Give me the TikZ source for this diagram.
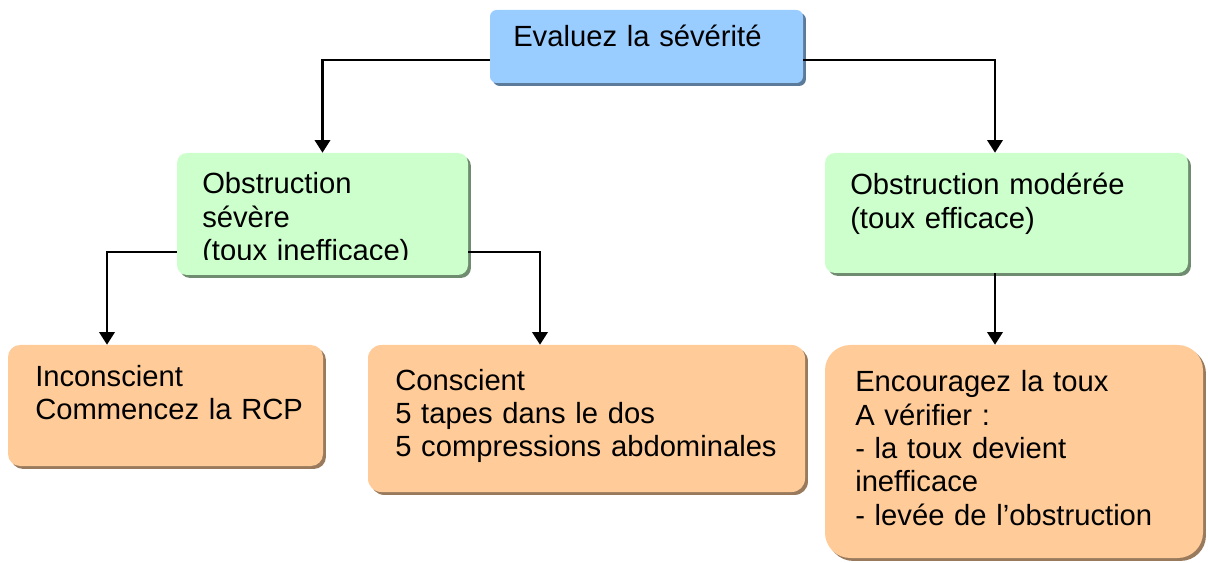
\documentclass[tikz,border=0pt]{standalone}
\usepackage{fontspec}
\setmainfont{Liberation Sans}
\usetikzlibrary{arrows.meta,shadows,fit}
\definecolor{cblue}{HTML}{99CCFF}
\definecolor{cgreen}{HTML}{CCFFCC}
\definecolor{corange}{HTML}{FFCC99}
\tikzset{
  boxbase/.style={draw=none, inner sep=0pt},
  bluebox/.style={boxbase, fill=cblue, rounded corners=5pt,
    general shadow={fill=cblue!60!black, shadow xshift=2.2pt, shadow yshift=-2.2pt}},
  greenbox/.style={boxbase, fill=cgreen, rounded corners=7.5pt,
    general shadow={fill=cgreen!55!black, shadow xshift=2.2pt, shadow yshift=-2.2pt}},
  orangebox/.style={boxbase, fill=corange, rounded corners=#1,
    general shadow={fill=corange!60!black, shadow xshift=2.2pt, shadow yshift=-2.2pt}},
  txt/.style={inner sep=0pt, anchor=base west, align=left, text width=300pt,
    font=\fontsize{21.9}{25}\selectfont},
  conn/.style={line width=1.9pt, -{Triangle[length=9.5pt,width=11.5pt]}},
}
\begin{document}
\begin{tikzpicture}[x=0.75pt,y=-0.75pt]
\useasboundingbox (0,0) rectangle (1208,563);
% boxes
\node[bluebox, fit={(490,10)(803,83)}] (eval) {};
\node[greenbox, fit={(177,153)(468,275)}] (sev) {};
\node[greenbox, fit={(825,153)(1188,273)}] (mod) {};
\node[orangebox=9pt, fit={(8,345)(323,466)}] (inc) {};
\node[orangebox=10pt, fit={(368,345)(805,492)}] (con) {};
\node[orangebox=19pt, fit={(825,345)(1203,558)}] (enc) {};
% texts
\node[txt] (teval) at (513,47) {Evaluez la sévérité};
\begin{scope}
\clip (177,153) rectangle (468,260);
\node[txt] (tsev) at (202,194) {Obstruction\\sévère\\(toux inefficace)};
\end{scope}
\node[txt] (tmod) at (850,195) {Obstruction modérée\\(toux efficace)};
\node[txt] (tinc) at (35,386) {Inconscient\\Commencez la RCP};
\node[txt] (tcon) at (395,390) {Conscient\\5 tapes dans le dos\\5 compressions abdominales};
\node[txt] (tenc) at (855,392) {Encouragez la toux\\A vérifier :\\- la toux devient\\inefficace\\- levée de l’obstruction};
% helper coordinates
\coordinate (ya) at (0,60);
\coordinate (yb) at (0,252);
\coordinate (xa) at (322.5,0);
\coordinate (xb) at (995,0);
\coordinate (xc) at (107,0);
\coordinate (xd) at (540,0);
% connectors
\draw[conn] (eval.west |- ya) -| (sev.north -| xa);
\draw[conn] (eval.east |- ya) -| (mod.north -| xb);
\draw[conn] (sev.west |- yb) -| (inc.north -| xc);
\draw[conn] (sev.east |- yb) -| (con.north -| xd);
\draw[conn] (mod.south -| xb) -- (enc.north -| xb);
\end{tikzpicture}
\end{document}
